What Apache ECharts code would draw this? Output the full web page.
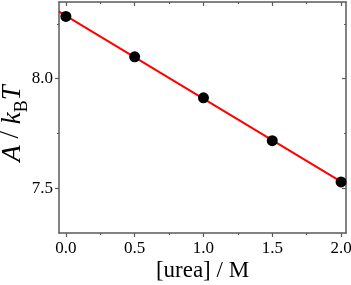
<!DOCTYPE html>
<html><head><meta charset="utf-8">
<script src="https://cdn.jsdelivr.net/npm/echarts@6/dist/echarts.min.js"></script>
<style>html,body{margin:0;padding:0;background:#fff}#c{width:351px;height:285px}</style>
</head><body><div id="c"></div>
<script>
var ureaM = [0.0, 0.5, 1.0, 1.5, 2.0];
var energyKT = [8.284, 8.100, 7.913, 7.717, 7.529];
var xMajorTicks = [0.0, 0.5, 1.0, 1.5, 2.0];
var xMinorTicks = [0.25, 0.75, 1.25, 1.75];
var yMajorTicks = [7.5, 8.0];
var yMinorTicks = [7.75, 8.25];
var xRange = [-0.05, 2.036];
var yRange = [7.296, 8.35];

// least-squares fit from the data
var n = ureaM.length, mx = 0, my = 0;
for (var i = 0; i < n; i++) { mx += ureaM[i]; my += energyKT[i]; }
mx /= n; my /= n;
var sxy = 0, sxx = 0;
for (var i = 0; i < n; i++) { sxy += (ureaM[i]-mx)*(energyKT[i]-my); sxx += (ureaM[i]-mx)*(ureaM[i]-mx); }
var slope = sxy / sxx, icpt = my - slope * mx;
var fitData = [[xRange[0], icpt + slope*xRange[0]], [xRange[1], icpt + slope*xRange[1]]];

var axCol = '#5a5a5a';
var font = 'Liberation Serif';
function xAx(pos, ticks, len, inside, labels, line) {
  return {
    type: 'value', position: pos, min: xRange[0], max: xRange[1],
    axisLine: {show: line, onZero: false, lineStyle: {color: axCol, width: 1.5}},
    axisTick: {show: true, customValues: ticks, length: len, inside: inside, lineStyle: {color: axCol, width: 1.2}},
    axisLabel: labels ? {show: true, customValues: ticks, color: '#000', fontFamily: font, fontSize: 17, margin: 7,
      formatter: function (v) { return v.toFixed(1); }} : {show: false},
    splitLine: {show: false}
  };
}
function yAx(pos, ticks, len, inside, labels, line) {
  return {
    type: 'value', position: pos, min: yRange[0], max: yRange[1],
    axisLine: {show: line, onZero: false, lineStyle: {color: axCol, width: 1.5}},
    axisTick: {show: true, customValues: ticks, length: len, inside: inside, lineStyle: {color: axCol, width: 1.2}},
    axisLabel: labels ? {show: true, customValues: ticks, color: '#000', fontFamily: font, fontSize: 17, margin: 6,
      formatter: function (v) { return v.toFixed(1); }} : {show: false},
    splitLine: {show: false}
  };
}
var xa0 = xAx('bottom', xMajorTicks, 4, false, true, true);
xa0.name = '[urea] / M';
xa0.nameLocation = 'middle';
xa0.nameGap = 26;
xa0.nameMoveOverlap = false;
xa0.nameTextStyle = {fontFamily: font, fontSize: 23, color: '#000'};
var ya0 = yAx('left', yMajorTicks, 4, false, true, true);
ya0.name = '{i|A} / {i|k}{s|B}{i|T}';
ya0.nameLocation = 'middle';
ya0.nameGap = 33;
ya0.nameRotate = 90;
ya0.nameMoveOverlap = false;
ya0.nameTextStyle = {fontFamily: font, fontSize: 27, color: '#000', padding: [0, 12, 0, 0],
  rich: {
    i: {fontFamily: font, fontSize: 27, fontStyle: 'italic', color: '#000', lineHeight: 30, verticalAlign: 'bottom'},
    s: {fontFamily: font, fontSize: 18, color: '#000', lineHeight: 30, verticalAlign: 'bottom', padding: [0,0,-5,0]}
  }};

var chart = echarts.init(document.getElementById('c'), null, {renderer: 'canvas'});
chart.setOption({
  animation: false,
  grid: {left: 59, right: 5, top: 2, bottom: 52, containLabel: false, outerBoundsMode: 'none'},
  xAxis: [
    xa0,
    xAx('bottom', xMinorTicks, 2, false, false, false),
    xAx('top', xMajorTicks, 4, true, false, true),
    xAx('top', xMinorTicks, 2, true, false, false)
  ],
  yAxis: [
    ya0,
    yAx('left', yMinorTicks, 2, false, false, false),
    yAx('right', yMajorTicks, 4, true, false, true),
    yAx('right', yMinorTicks, 2, true, false, false)
  ],
  series: [
    {type: 'line', data: fitData, symbol: 'none', lineStyle: {color: '#ff0000', width: 2}, z: 2, clip: true},
    {type: 'scatter', data: ureaM.map(function (x, i) { return [x, energyKT[i]]; }),
      symbol: 'circle', symbolSize: 11, itemStyle: {color: '#000', opacity: 1}, z: 3}
  ]
});
</script></body></html>
